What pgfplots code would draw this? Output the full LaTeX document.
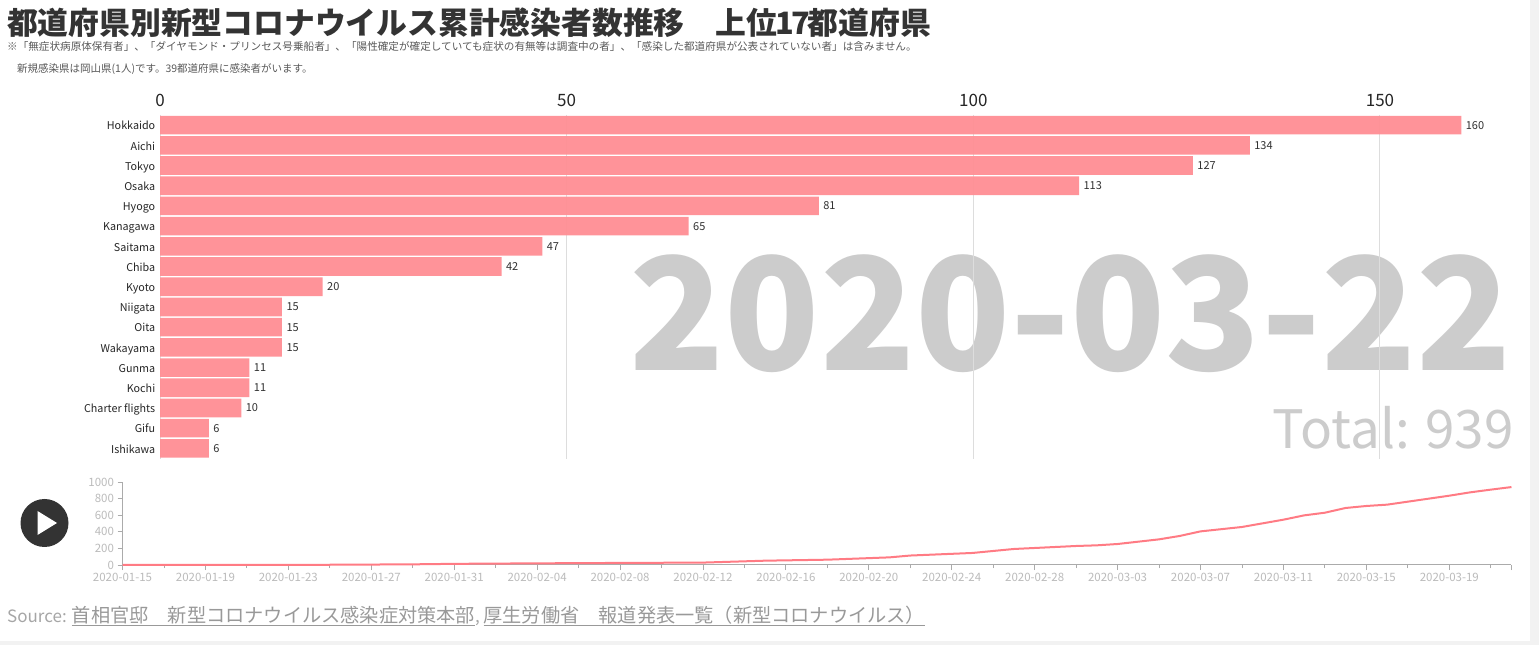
\documentclass[border=0pt]{standalone}
\usepackage{fontspec}
\usepackage{pgfplots}
\pgfplotsset{compat=1.18}
\setmainfont{Noto Sans CJK JP}
\definecolor{barc}{HTML}{FF8E94}
\definecolor{linec}{HTML}{FF7B84}
\definecolor{gridc}{HTML}{DDDDDD}
\definecolor{axc}{HTML}{ABABAB}
\definecolor{tickc}{HTML}{BBBBBB}
\definecolor{bigc}{HTML}{CCCCCC}
\newcommand{\fs}[1]{\fontsize{#1pt}{#1pt}\selectfont}
\begin{document}
\begin{tikzpicture}[x=1pt,y=1pt]
\useasboundingbox (0,0) rectangle (1539,645);
\fill[white] (0,0) rectangle (1539,645);
\fill[black!5] (1530,0) rectangle (1539,645);
\fill[black!5] (0,0) rectangle (1539,4);
% big texts
\node[anchor=base east,text=bigc,inner sep=0pt] at (1512,274) {\fs{156.5}\bfseries 2020-03-22};
\node[anchor=base east,text=bigc,inner sep=0pt] at (1514,196) {\fs{53}Total: 939};
% main bars
\begin{axis}[
  at={(160pt,186.5pt)},anchor=south west,
  scale only axis,width=1301.3pt,height=343.5pt,
  xmin=0,xmax=160,ymin=-0.5,ymax=16.5,y dir=reverse,
  axis line style={draw=none},
  tick style={draw=none},
  xtick={0,50,100,150},
  xticklabel pos=top,
  x tick label style={font=\fs{17},text=black!85,yshift=5pt},
  /pgf/number format/assume math mode=true,
  ytick={0,...,16},
  yticklabels={Hokkaido,Aichi,Tokyo,Osaka,Hyogo,Kanagawa,Saitama,Chiba,Kyoto,Niigata,Oita,Wakayama,Gunma,Kochi,Charter flights,Gifu,Ishikawa},
  y tick label style={font=\fs{10.75},text=black!85,xshift=3pt,yshift=-2pt,text height=8pt,text depth=2.5pt},
  xmajorgrids,major grid style={gridc,line width=1pt},
  xbar,bar width=18.6pt,bar shift=0pt,
  nodes near coords,
  nodes near coords style={font=\fs{11},text=black!85,anchor=west,xshift=1pt},
  clip=false,
]
\addplot[draw=none,fill=barc,fill opacity=0.95] table[x=v,y=i] {
i v
0 160
1 134
2 127
3 113
4 81
5 65
6 47
7 42
8 20
9 15
10 15
11 15
12 11
13 11
14 10
15 6
16 6
};
\end{axis}
% line chart
\begin{axis}[
  at={(122.5pt,80pt)},anchor=south west,
  scale only axis,width=1389pt,height=83pt,
  xmin=0,xmax=67,ymin=0,ymax=1000,
  axis x line*=bottom,axis y line*=left,
  axis line style={axc,line width=1pt,-},
  tick style={axc,line width=0.8pt},
  major tick length=5pt,minor tick length=3pt,
  tick align=outside,
  xtick={0,4,...,64,67},
  minor xtick={2,6,...,66},
  xticklabels={2020-01-15,2020-01-19,2020-01-23,2020-01-27,2020-01-31,2020-02-04,2020-02-08,2020-02-12,2020-02-16,2020-02-20,2020-02-24,2020-02-28,2020-03-03,2020-03-07,2020-03-11,2020-03-15,2020-03-19,},
  ytick={0,200,...,1000},
  /pgf/number format/assume math mode=true,
  /pgf/number format/1000 sep={},
  tick label style={font=\fs{11.5},text=tickc},
  ytick pos=left,xtick pos=bottom,
  clip=false,
]
\addplot[linec,line width=2pt,line join=round] table[x=d,y=v] {
d v
0 1
6 2
10 3
14 8
16 14
20 20
24 25
28 29
31 52
34 64
37 92
38 114
41 145
43 193
44 205
46 229
47 237
48 253
50 309
51 350
52 405
54 458
56 546
57 598
58 630
59 687
60 711
61 727
62 763
63 799
64 835
65 875
66 908
67 939
};
\end{axis}
% title and notes
\node[anchor=west,inner sep=0pt,text=black!80] at (7,622) {\fs{30.8}\bfseries 都道府県別新型コロナウイルス累計感染者数推移　上位\kern-2pt 1\kern-2pt 7\kern-3pt 都道府県};
\node[anchor=west,inner sep=0pt,text=black!65] at (7,599) {\fs{10.6}※「無症状病原体保有者」、「ダイヤモンド・プリンセス号乗船者」、「陽性確定が確定していても症状の有無等は調査中の者」、「感染した都道府県が公表されていない者」は含みません。};
\node[anchor=west,inner sep=0pt,text=black!65] at (17,576) {\fs{10.5}新規感染県は岡山県(1人)です。39都道府県に感染者がいます。};
% play button
\fill[black!80] (44.5,122) circle (24);
\fill[white] (37.5,134) -- (37.5,110) -- (57,122) -- cycle;
% source
\node[anchor=west,inner sep=0pt,text=black!35] at (7,29) {\fs{17}Source: \textcolor{black!40}{\fs{19.2}\underline{首相官邸　新型コロナウイルス感染症対策本部}}, \textcolor{black!40}{\fs{19.2}\underline{厚生労働省　報道発表一覧（新型コロナウイルス）}}};
\end{tikzpicture}
\end{document}
